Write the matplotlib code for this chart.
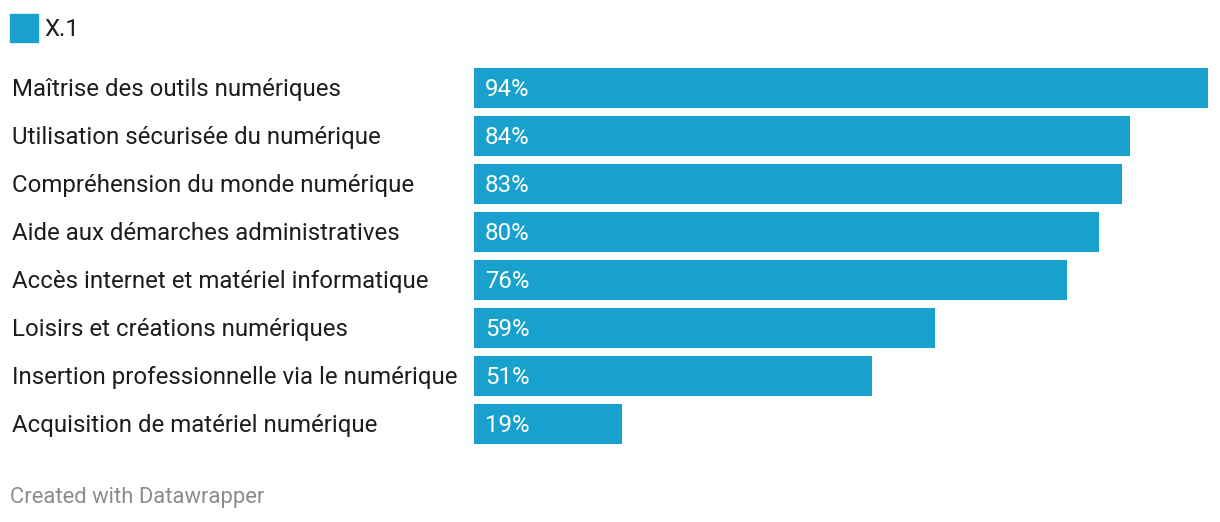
import matplotlib.pyplot as plt
from matplotlib.patches import Rectangle
from matplotlib.transforms import blended_transform_factory

# données
categories = [
    'Maîtrise des outils numériques',
    'Utilisation sécurisée du numérique',
    'Compréhension du monde numérique',
    'Aide aux démarches administratives',
    'Accès internet et matériel informatique',
    'Loisirs et créations numériques',
    'Insertion professionnelle via le numérique',
    'Acquisition de matériel numérique',
]
values = [94, 84, 83, 80, 76, 59, 51, 19]
series_name = 'X.1'

BLUE = '#18a1cd'
W, H = 1220, 522

plt.rcParams['font.family'] = ['Roboto', 'DejaVu Sans']

fig = plt.figure(figsize=(W / 100, H / 100), dpi=100)
fig.patch.set_facecolor('white')

# axes: x 474..1208 px, y 64..448 px
ax = fig.add_axes([474 / W, (H - 448) / H, 734 / W, 384 / H])
ypos = list(range(len(categories)))
ax.barh(ypos, values, height=40 / 48, color=BLUE)
ax.set_xlim(0, max(values))
ax.set_ylim(len(categories) - 0.5, -0.5)
ax.axis('off')

FS = 17.3
DY = -1.5 * 0.72  # petit décalage vers le bas
lbl_tr = blended_transform_factory(fig.transFigure, ax.transData)
for i, (cat, v) in enumerate(zip(categories, values)):
    ax.annotate(cat, xy=(12 / W, i), xycoords=lbl_tr, xytext=(0, DY),
                textcoords='offset points', ha='left', va='center',
                fontsize=FS, color='#1d1d1d')
    ax.annotate(f'{v}%', xy=(0, i), xytext=(11 * 0.72, DY),
                textcoords='offset points', ha='left', va='center',
                fontsize=FS, color='white')

# légende
fig.patches.append(Rectangle((10 / W, 1 - 42 / H), 28 / W, 28 / H,
                             transform=fig.transFigure, color=BLUE))
fig.text(44 / W, 1 - 29 / H, series_name, ha='left', va='center',
         fontsize=FS, color='#1d1d1d')

# pied
fig.text(10 / W, 1 - 497 / H, 'Created with Datawrapper', ha='left',
         va='center', fontsize=15.8, color='#8c8c8c')

fig.savefig('out.png', dpi=100)
